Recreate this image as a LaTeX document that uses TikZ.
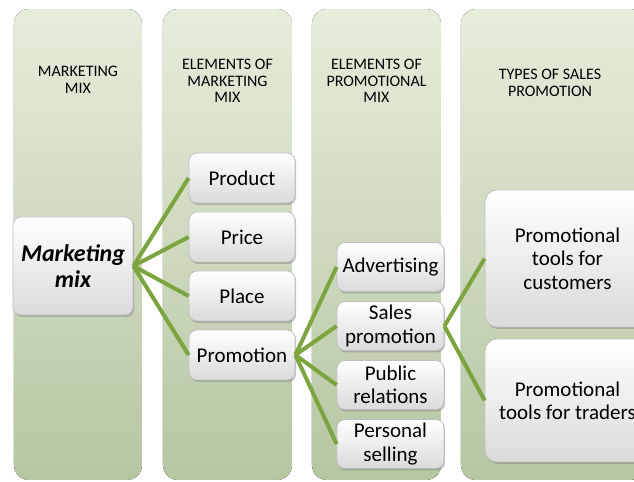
\documentclass[tikz,border=0pt]{standalone}
\usepackage{fontspec}
\setmainfont{Carlito}
\usetikzlibrary{shadows}
\definecolor{coltop}{RGB}{230,237,219}
\definecolor{colbot}{RGB}{182,197,162}
\definecolor{linkgreen}{RGB}{124,165,64}
\definecolor{boxbot}{RGB}{218,218,218}

\begin{document}
\begin{tikzpicture}[x=0.5pt, y=-0.5pt,
    colbg/.style={rounded corners=7.5pt, top color=coltop, bottom color=colbot, draw=none},
    heading/.style={align=center, font=\fontsize{8}{8.3}\selectfont, text=black},
    itembox/.style={draw=gray!50, rounded corners=4pt, top color=white, bottom color=boxbot,
        drop shadow={shadow xshift=0.6pt, shadow yshift=-1pt, opacity=0.45},
        align=center, inner sep=1pt, font=\fontsize{10.5}{11.7}\selectfont, text=black},
    link/.style={draw=linkgreen, line width=2pt}]
    \useasboundingbox (0,0) rectangle (634,482);
    \clip (0,0) rectangle (634,482);

    \fill[colbg] (14,9) rectangle (142,480);
    \fill[colbg] (163,9) rectangle (292,480);
    \fill[colbg] (312,9) rectangle (441,480);
    \fill[colbg] (461,9) rectangle (645,480);

    \node[heading] (hmix) at (78,80) {MARKETING\\MIX};
    \node[heading] (helem) at (227.5,81) {ELEMENTS OF\\MARKETING\\MIX};
    \node[heading] (hpromo) at (376.5,81) {ELEMENTS OF\\PROMOTIONAL\\MIX};
    \node[heading] (htypes) at (550,83) {TYPES OF SALES\\PROMOTION};

    \node[itembox, minimum width=60pt, minimum height=49pt,
        font=\fontsize{12}{13}\selectfont\bfseries\itshape] (mix) at (73,266) {Marketing\\mix};

    \node[itembox, minimum width=53pt, minimum height=25pt] (product) at (242,178) {Product};
    \node[itembox, minimum width=53pt, minimum height=25pt] (price) at (242,237) {Price};
    \node[itembox, minimum width=53pt, minimum height=25pt] (place) at (242,296) {Place};
    \node[itembox, minimum width=53pt, minimum height=25pt] (promotion) at (242,355) {Promotion};

    \node[itembox, minimum width=53.5pt, minimum height=24.5pt] (advert) at (390.5,267) {Advertising};
    \node[itembox, minimum width=53.5pt, minimum height=24.5pt] (sales) at (390.5,326) {Sales\\promotion};
    \node[itembox, minimum width=53.5pt, minimum height=24.5pt] (public) at (390.5,385) {Public\\relations};
    \node[itembox, minimum width=53.5pt, minimum height=24.5pt] (personal) at (390.5,444) {Personal\\selling};

    \node[itembox, rounded corners=6pt, minimum width=82.5pt, minimum height=68.5pt] (customers) at (567.5,258.5) {Promotional\\tools for\\customers};
    \node[itembox, rounded corners=6pt, minimum width=82.5pt, minimum height=61.5pt] (traders) at (567.5,400.5) {Promotional\\tools for traders};

    \draw[link] (mix.east) -- (product.west);
    \draw[link] (mix.east) -- (price.west);
    \draw[link] (mix.east) -- (place.west);
    \draw[link] (mix.east) -- (promotion.west);
    \draw[link] (promotion.east) -- (advert.west);
    \draw[link] (promotion.east) -- (sales.west);
    \draw[link] (promotion.east) -- (public.west);
    \draw[link] (promotion.east) -- (personal.west);
    \draw[link] (sales.east) -- (customers.west);
    \draw[link] (sales.east) -- (traders.west);
\end{tikzpicture}
\end{document}
